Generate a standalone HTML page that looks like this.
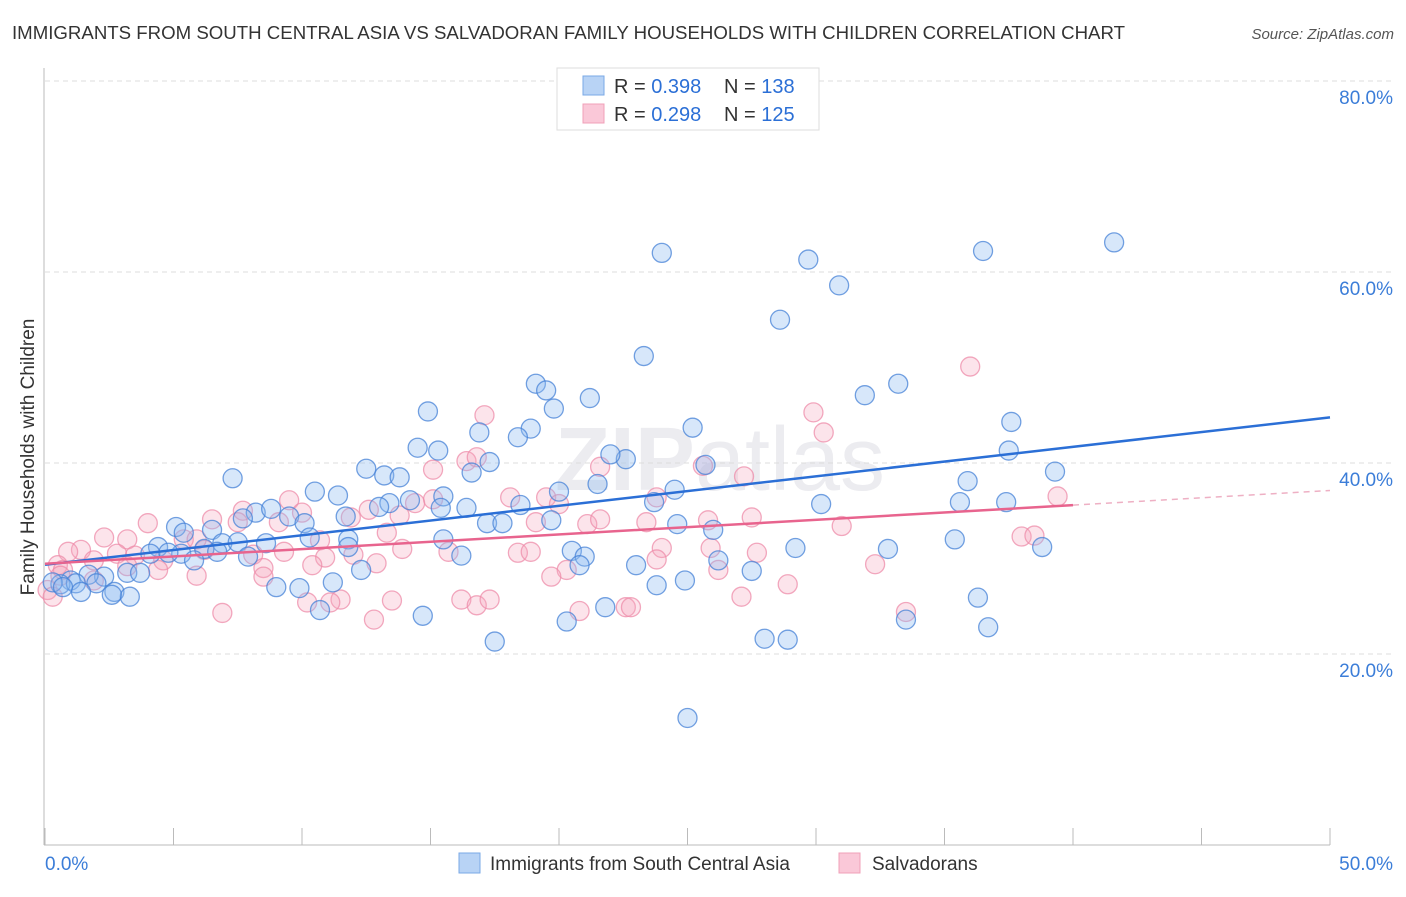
<!DOCTYPE html>
<html><head><meta charset="utf-8"><style>
body{margin:0;background:#fff;font-family:"Liberation Sans",sans-serif}
svg text{font-family:"Liberation Sans",sans-serif}
</style></head><body>
<svg id="chart" width="1406" height="892">
<text x="12" y="39" font-size="18" fill="#333" textLength="1113" lengthAdjust="spacingAndGlyphs">IMMIGRANTS FROM SOUTH CENTRAL ASIA VS SALVADORAN FAMILY HOUSEHOLDS WITH CHILDREN CORRELATION CHART</text>
<text x="1394" y="39" font-size="15" fill="#555" font-style="italic" text-anchor="end">Source: ZipAtlas.com</text>
<text x="720" y="490" font-size="90" fill="#ececf0" text-anchor="middle" font-weight="bold">ZIP<tspan font-weight="normal">atlas</tspan></text>
<g id="grid"></g><g id="pts"></g><g id="lines"></g>
<text transform="translate(34,457) rotate(-90)" font-size="19" fill="#333" text-anchor="middle">Family Households with Children</text>
<g>
<rect x="557" y="68" width="262" height="62" fill="#fff" stroke="#ddd"/>
<rect x="583" y="76" width="21" height="19" fill="#b8d3f5" stroke="#7aa8e6"/>
<rect x="583" y="104" width="21" height="19" fill="#fac8d8" stroke="#f0a0b8"/>
<text x="614" y="93" font-size="20" fill="#333">R = <tspan fill="#2b6fd6">0.398</tspan></text>
<text x="724" y="93" font-size="20" fill="#333">N = <tspan fill="#2b6fd6">138</tspan></text>
<text x="614" y="121" font-size="20" fill="#333">R = <tspan fill="#2b6fd6">0.298</tspan></text>
<text x="724" y="121" font-size="20" fill="#333">N = <tspan fill="#2b6fd6">125</tspan></text>
</g>
<g>
<rect x="459" y="853" width="21" height="20" fill="#b8d3f5" stroke="#7aa8e6"/>
<text x="490" y="870" font-size="19" fill="#333">Immigrants from South Central Asia</text>
<rect x="839" y="853" width="21" height="20" fill="#fac8d8" stroke="#f0a0b8"/>
<text x="872" y="870" font-size="19" fill="#333">Salvadorans</text>
</g>
</svg>
<script>
const xTicks=[0,50];
const yTicks=[20,40,60,80];
const blueX=[24.0,29.7,36.5,41.6,30.9,28.6,23.3,33.2,31.9,19.1,19.5,19.8,21.2,14.9,37.6,18.9,16.9,25.2,18.4,14.5,15.3,37.5,17.3,22.6,25.7,16.6,12.5,22.0,39.3,7.3,13.2,13.8,35.9,21.5,10.5,15.5,20.0,24.5,35.6,37.4,30.2,23.7,18.5,16.4,13.4,14.2,13.0,11.4,8.2,8.8,7.7,9.5,10.1,11.7,19.7,17.2,17.8,24.6,26.0,5.1,6.5,11.8,15.5,35.4,6.9,7.5,8.6,11.8,4.4,5.3,4.1,6.2,6.7,10.3,38.8,32.8,29.2,20.5,16.2,7.9,5.8,4.8,21.0,26.2,20.8,23.0,12.3,27.5,3.2,2.3,3.7,1.7,1.0,0.6,0.3,1.2,0.7,2.0,1.4,2.7,3.3,2.6,9.0,9.9,11.2,23.8,24.9,36.3,21.8,14.7,10.7,20.3,33.5,36.7,17.5,28.0,28.9,25.0,5.4,15.4];
const blueY=[62.0,61.3,62.2,63.1,58.6,55.0,51.2,48.3,47.1,48.3,47.6,45.7,46.8,45.4,44.3,43.6,43.2,43.7,42.7,41.6,41.3,41.3,40.1,40.4,39.8,39.0,39.4,40.9,39.1,38.4,38.7,38.5,38.1,37.8,37.0,36.5,37.0,37.2,35.9,35.9,35.7,35.9,35.6,35.3,35.8,36.1,35.4,36.6,34.8,35.2,34.2,34.4,33.7,34.4,34.0,33.7,33.7,33.6,33.0,33.3,33.0,32.0,32.0,32.0,31.6,31.7,31.6,31.2,31.2,30.5,30.5,31.0,30.7,32.2,31.2,31.0,31.1,30.8,30.3,30.2,29.8,30.6,30.2,29.8,29.3,29.3,28.8,28.7,28.5,28.1,28.5,28.3,27.7,27.3,27.5,27.4,27.0,27.4,26.5,26.5,26.0,26.2,27.0,26.9,27.5,27.2,27.7,25.9,24.9,24.0,24.6,23.4,23.6,22.8,21.3,21.6,21.5,13.3,32.7,35.3];
const pinkX=[36.0,29.9,17.1,30.3,16.4,16.8,21.6,25.6,15.1,27.2,39.4,23.8,18.1,19.5,9.5,15.1,14.4,12.6,20.0,7.7,10.0,13.8,6.5,4.0,9.1,7.5,11.9,21.1,21.6,27.5,25.8,23.4,31.0,19.1,2.3,3.2,5.4,10.7,13.3,38.0,38.5,1.4,0.9,2.8,3.5,4.6,6.2,8.1,9.3,10.9,12.0,13.9,15.7,18.4,18.9,24.0,25.9,27.7,1.9,0.5,0.7,4.4,5.9,3.2,10.4,12.9,8.5,20.3,23.8,32.3,26.2,19.7,8.5,0.1,0.3,27.1,28.9,16.2,16.8,17.3,11.5,10.2,13.5,22.6,22.8,20.8,6.9,12.8,33.5,11.1,1.9,0.6,5.9];
const pinkY=[50.1,45.3,45.0,43.2,40.2,40.6,39.6,39.7,39.3,38.6,36.5,36.4,36.4,36.4,36.1,36.2,35.8,35.1,35.7,35.0,34.8,34.5,34.1,33.7,33.8,33.8,34.3,33.6,34.1,34.3,34.0,33.8,33.4,33.8,32.2,32.0,32.0,31.9,32.7,32.3,32.4,30.9,30.7,30.5,30.3,29.8,30.9,30.4,30.7,30.1,30.4,31.0,30.7,30.6,30.7,31.1,31.1,30.6,29.8,29.3,28.8,28.8,28.2,29.2,29.3,29.5,29.0,28.8,29.9,29.4,28.8,28.1,28.1,26.7,26.0,26.0,27.3,25.7,25.1,25.7,25.7,25.4,25.6,24.9,24.9,24.5,24.3,23.6,24.4,25.4,27.7,28.2,32.0];
const NS='http://www.w3.org/2000/svg';
const X=v=>45+v*25.7, Y=v=>845-v*9.55;
function mk(tag,a,p){const e=document.createElementNS(NS,tag);for(const k in a)e.setAttribute(k,a[k]);p.appendChild(e);return e;}
const grid=document.getElementById('grid');
yTicks.forEach(t=>{
 const l=mk('line',{x1:45,x2:1394,y1:Y(t),y2:Y(t),stroke:'#ddd','stroke-dasharray':'5,4'},grid);
 
 
 const tx=mk('text',{x:1393,y:Y(t)+23,'font-size':19,fill:'#3b7dd8','text-anchor':'end'},grid);
 tx.textContent=t.toFixed(1)+'%';
 
 
});
const ax=mk('line',{x1:44,x2:44,y1:68,y2:845,stroke:'#bbb'},grid);


const bx=mk('line',{x1:44,x2:1330,y1:845,y2:845,stroke:'#bbb'},grid);


for(let i=0;i<=10;i++){const t=mk('line',{x1:X(i*5),x2:X(i*5),y1:828,y2:845,stroke:'#bbb'},grid);
 
 }
xTicks.forEach((t,i)=>{const tx=mk('text',{x:i?1393:45,y:870,'font-size':19,fill:'#3b7dd8','text-anchor':i?'end':'start'},grid);
 tx.textContent=t.toFixed(1)+'%';
 
 });
const pts=document.getElementById('pts');
function draw(xs,ys,fill,stroke,name){xs.forEach((x,i)=>{const c=mk('circle',{cx:X(x),cy:Y(ys[i]),r:9.5,fill:fill,stroke:stroke,'stroke-width':1.3},pts);
 
 });}
draw(pinkX,pinkY,'rgba(245,165,190,0.3)','rgba(238,140,170,0.75)','salvadoran-point');
draw(blueX,blueY,'rgba(140,185,240,0.35)','rgba(70,130,215,0.75)','asia-point');
function fit(xs,ys){const n=xs.length;let mx=0,my=0;xs.forEach((x,i)=>{mx+=x;my+=ys[i]});mx/=n;my/=n;let sxy=0,sxx=0;xs.forEach((x,i)=>{sxy+=(x-mx)*(ys[i]-my);sxx+=(x-mx)**2});const b=sxy/sxx;return [my-b*mx,b];}
const lines=document.getElementById('lines');
const [ba,bb]=fit(blueX,blueY);
const bl=mk('line',{x1:X(0),y1:Y(ba),x2:X(50),y2:Y(ba+bb*50),stroke:'#2b6fd6','stroke-width':2.5},lines);


const [pa,pb]=fit(pinkX,pinkY);
const pl=mk('line',{x1:X(0),y1:Y(pa),x2:X(40),y2:Y(pa+pb*40),stroke:'#e8648e','stroke-width':2.5},lines);


const pd=mk('line',{x1:X(40),y1:Y(pa+pb*40),x2:X(50),y2:Y(pa+pb*50),stroke:'#eeb0c4','stroke-width':1.5,'stroke-dasharray':'6,5'},lines);


</script>
</body></html>
